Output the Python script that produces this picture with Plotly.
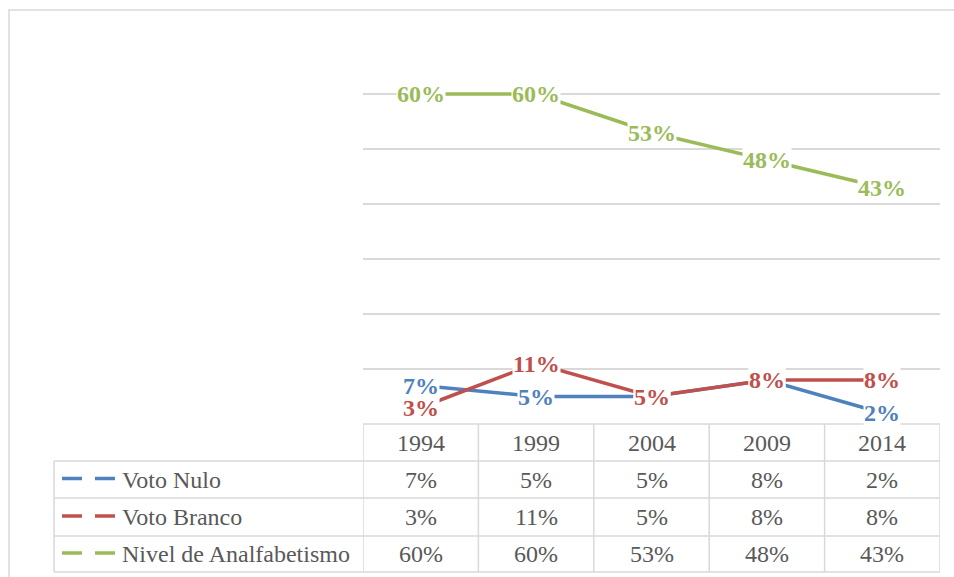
import plotly.graph_objects as go

# Data
years = ["1994", "1999", "2004", "2009", "2014"]
voto_nulo = [7, 5, 5, 8, 2]
voto_branco = [3, 11, 5, 8, 8]
analfabetismo = [60, 60, 53, 48, 43]

series_names = ["Voto Nulo", "Voto Branco", "Nivel de Analfabetismo"]
series_values = [voto_nulo, voto_branco, analfabetismo]
series_colors = ["#4F81BD", "#C0504D", "#9BBB59"]

W, H = 954, 577
GRID = "#D9D9D9"
TEXT = "#595959"
SERIF = "Liberation Serif"


def px(x):
    return x / W


def py(y):
    return 1 - y / H


# Pixel layout of the plot area and the data table under it
PLOT_L, PLOT_R, PLOT_T, PLOT_B = 363, 940, 39, 424
TABLE_L = 54
ROW_LINES = [424, 461, 498, 536, 572]

xs = list(range(len(years)))

fig = go.Figure()

for name, vals, col in zip(series_names, series_values, series_colors):
    fig.add_trace(go.Scatter(
        x=xs, y=[v / 100 for v in vals], mode="lines", name=name,
        line=dict(color=col, width=3.5), showlegend=False, hoverinfo="skip",
    ))

annotations = []
shapes = []

# Data labels centred on each point, with a white box over the line
for vals, col in zip(series_values, series_colors):
    for i, v in enumerate(vals):
        annotations.append(dict(
            x=i, y=v / 100, xref="x", yref="y", text=f"<b>{v}%</b>",
            showarrow=False, xanchor="center", yanchor="middle",
            font=dict(family=SERIF, size=24, color=col),
            bgcolor="white", borderpad=0,
        ))

# Data table: header row with years
row_centers = [(ROW_LINES[k] + ROW_LINES[k + 1]) / 2 for k in range(len(ROW_LINES) - 1)]
for i, yr in enumerate(years):
    annotations.append(dict(
        x=i, y=py(row_centers[0]), xref="x", yref="paper", text=yr,
        showarrow=False, xanchor="center", yanchor="middle",
        font=dict(family=SERIF, size=24, color=TEXT),
    ))

# Data table: one row per series
for r, (name, vals, col) in enumerate(zip(series_names, series_values, series_colors)):
    yc = row_centers[r + 1]
    for i, v in enumerate(vals):
        annotations.append(dict(
            x=i, y=py(yc), xref="x", yref="paper", text=f"{v}%",
            showarrow=False, xanchor="center", yanchor="middle",
            font=dict(family=SERIF, size=24, color=TEXT),
        ))
    annotations.append(dict(
        x=px(120), y=py(yc), xref="paper", yref="paper", text=name,
        showarrow=False, xanchor="left", yanchor="middle",
        font=dict(family=SERIF, size=24, color=TEXT),
    ))
    # legend key: dashed line sample
    for x0, x1 in [(62, 82), (95, 115)]:
        shapes.append(dict(
            type="line", xref="paper", yref="paper",
            x0=px(x0), x1=px(x1), y0=py(yc - 1), y1=py(yc - 1),
            line=dict(color=col, width=3.5),
        ))

# Table grid lines
for k, yl in enumerate(ROW_LINES):
    left = PLOT_L if k == 0 else TABLE_L
    shapes.append(dict(
        type="line", xref="paper", yref="paper",
        x0=px(left), x1=px(PLOT_R), y0=py(yl), y1=py(yl),
        line=dict(color=GRID, width=1.5),
    ))
for i in range(len(years) + 1):
    shapes.append(dict(
        type="line", xref="x", yref="paper",
        x0=i - 0.5, x1=i - 0.5, y0=py(ROW_LINES[0]), y1=py(ROW_LINES[-1]),
        line=dict(color=GRID, width=1.5),
    ))
shapes.append(dict(
    type="line", xref="paper", yref="paper",
    x0=px(TABLE_L), x1=px(TABLE_L), y0=py(ROW_LINES[1]), y1=py(ROW_LINES[-1]),
    line=dict(color=GRID, width=1.5),
))

# Chart area border
shapes.append(dict(
    type="rect", xref="paper", yref="paper",
    x0=px(9), x1=px(1000), y0=py(10), y1=py(700),
    line=dict(color=GRID, width=1.5), fillcolor="rgba(0,0,0,0)",
))

fig.update_layout(
    width=W, height=H,
    margin=dict(l=0, r=0, t=0, b=0),
    paper_bgcolor="white", plot_bgcolor="white",
    showlegend=False,
    xaxis=dict(
        domain=[px(PLOT_L), px(PLOT_R)], range=[-0.5, len(years) - 0.5],
        showgrid=False, zeroline=False, showticklabels=False, showline=False,
        fixedrange=True,
    ),
    yaxis=dict(
        domain=[py(PLOT_B), py(PLOT_T)], range=[0, 0.7],
        tickvals=[k / 10 for k in range(8)],
        showgrid=True, gridcolor=GRID, gridwidth=1.5,
        zeroline=False, showticklabels=False, showline=False,
        fixedrange=True,
    ),
    annotations=annotations,
    shapes=shapes,
)

fig.write_html("out.html")
